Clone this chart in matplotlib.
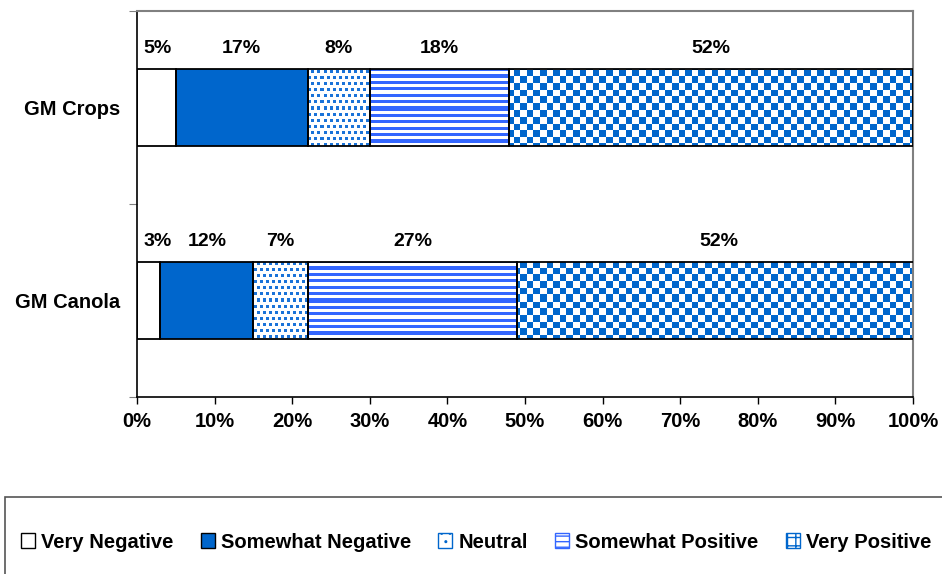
import numpy as np
import matplotlib.pyplot as plt
import matplotlib.colors as mcolors
from matplotlib.patches import Patch, Rectangle

# data (bottom to top as drawn)
categories = ['GM Canola', 'GM Crops']
responses = ['Very Negative', 'Somewhat Negative', 'Neutral',
             'Somewhat Positive', 'Very Positive']
very_negative = [3, 5]
somewhat_negative = [12, 17]
neutral = [7, 8]
somewhat_positive = [27, 18]
very_positive = [52, 52]
x_ticks = list(range(0, 101, 10))

BLUE = '#0066CC'
STRIPE = '#3366FF'

plt.rcParams['font.family'] = ['Liberation Sans', 'DejaVu Sans']
plt.rcParams['font.weight'] = 'bold'


def texture(kind, h, w, color):
    """Pixel-sized fill pattern (white + color) used inside the bars."""
    rgb = np.array(mcolors.to_rgb(color))
    yy, xx = np.mgrid[0:h, 0:w]
    if kind == 'checker':
        mask = ((yy / 6.6).astype(int) + (xx / 6.6).astype(int)) % 2 == 0
    elif kind == 'stripes':
        mask = (yy / 3.2).astype(int) % 2 == 0
    else:  # staggered dots
        shift = ((yy // 6) % 2) * 3
        mask = ((xx + shift) % 6 < 3) & (yy % 6 < 3)
    img = np.ones((h, w, 3))
    img[mask] = rgb
    return img


fig = plt.figure(figsize=(9.42, 5.74), dpi=100)
ax_w, ax_h = 776, 386
ax = fig.add_axes([137 / 942, 1 - 397 / 574, ax_w / 942, ax_h / 574])

y = np.arange(len(categories))
bar_h = 0.4
series = [very_negative, somewhat_negative, neutral, somewhat_positive, very_positive]
styles = [('solid', 'white'), ('solid', BLUE), ('dots', '#1a73d9'),
          ('stripes', STRIPE), ('checker', BLUE)]

left = np.zeros(len(categories))
for name, vals, (kind, col) in zip(responses, series, styles):
    vals = np.array(vals, dtype=float)
    face = col if kind == 'solid' else 'white'
    bars = ax.barh(y, vals, left=left, height=bar_h, color=face,
                   edgecolor='none', zorder=2)
    if kind != 'solid':
        tex = texture(kind, ax_h, ax_w, col)
        for p in bars.patches:
            im = ax.imshow(tex, extent=(0, 100, -0.5, 1.5), aspect='auto',
                           interpolation='nearest', zorder=2.5)
            im.set_clip_path(p)
    ax.barh(y, vals, left=left, height=bar_h, fill=False,
            edgecolor='black', linewidth=1.3, zorder=3)
    for yi, li, v in zip(y, left, vals):
        # keep tiny-segment labels clear of the axis line
        xl = max(li + v / 2, 2.6)
        ax.text(xl, yi + bar_h / 2 + 0.105, f'{int(v)}%',
                ha='center', va='center', fontsize=14, fontweight='bold')
    left += vals

ax.set_xlim(0, 100)
ax.set_ylim(-0.5, 1.5)
ax.set_xticks(x_ticks)
ax.set_xticklabels([f'{t}%' for t in x_ticks])
ax.tick_params(axis='x', length=5, width=1, pad=6, labelsize=14.5)

ax.set_yticks([-0.5, 0.5, 1.5])
ax.set_yticklabels([])
ax.tick_params(axis='y', which='major', length=6, color='#808080')
ax.set_yticks(y, minor=True)
ax.set_yticklabels(categories, minor=True)
ax.tick_params(axis='y', which='minor', length=0, pad=12, labelsize=14.5)

for s in ['top', 'right']:
    ax.spines[s].set_color('#808080')
    ax.spines[s].set_linewidth(1.5)
for s in ['left', 'bottom']:
    ax.spines[s].set_color('black')
    ax.spines[s].set_linewidth(1.2)

# legend in its own box along the bottom
fig.patches.append(Rectangle((5 / 942, -0.1), 1.0, 0.1 + 1 - 497 / 574,
                             transform=fig.transFigure, fill=False,
                             edgecolor='#555555', linewidth=1.2))
handles = [
    Patch(facecolor='white', edgecolor='black', label=responses[0]),
    Patch(facecolor=BLUE, edgecolor='black', label=responses[1]),
    Patch(facecolor='white', edgecolor=BLUE, hatch='..', label=responses[2]),
    Patch(facecolor='white', edgecolor=STRIPE, hatch='---', label=responses[3]),
    Patch(facecolor='white', edgecolor=BLUE, hatch='++', label=responses[4]),
]
fig.legend(handles=handles, ncol=5, loc='center',
           bbox_to_anchor=(476 / 942, 1 - 542 / 574), frameon=False,
           prop={'size': 14.5, 'weight': 'bold'}, handlelength=0.7,
           handleheight=0.7, handletextpad=0.3, columnspacing=1.35)

fig.savefig('out.png', dpi=100)
